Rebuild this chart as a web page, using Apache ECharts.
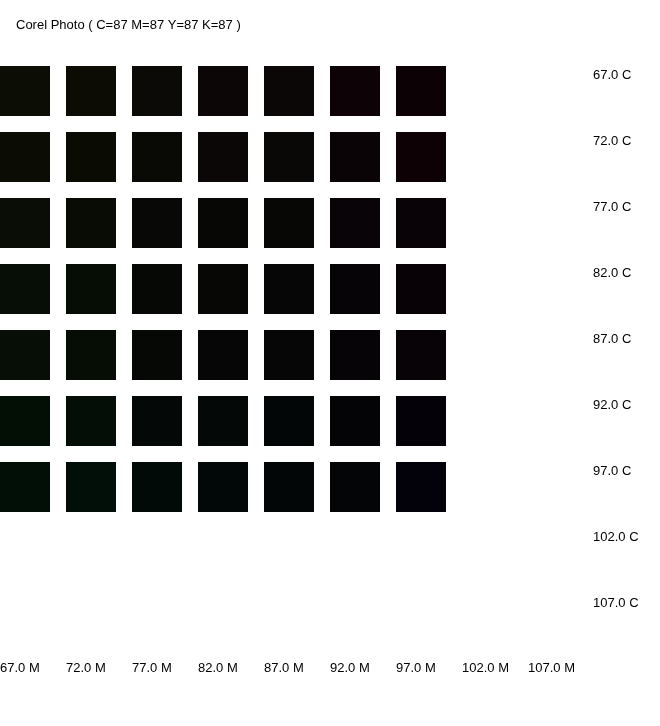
<!DOCTYPE html>
<html>
<head>
<meta charset="utf-8">
<script src="https://cdn.jsdelivr.net/npm/echarts@6/dist/echarts.min.js"></script>
<style>
html,body{margin:0;padding:0;background:#fff;}
#chart{width:660px;height:726px;}
</style>
</head>
<body>
<div id="chart"></div>
<script>
var titleText = 'Corel Photo ( C=87 M=87 Y=87 K=87 )';
// Magenta (x) and Cyan (y) levels shown on the axes
var mTicks = [67, 72, 77, 82, 87, 92, 97, 102, 107];
var cTicks = [67, 72, 77, 82, 87, 92, 97, 102, 107];
// Levels that have a swatch
var mValues = [67, 72, 77, 82, 87, 92, 97];
var cValues = [67, 72, 77, 82, 87, 92, 97];
// Swatch colours, one row per cyan level, one column per magenta level
var colorsC67 = ['#0c0d04', '#0c0c04', '#0c0a06', '#0c0607', '#0c0707', '#0d0307', '#0c0105'];
var colorsC72 = ['#0b0d05', '#0a0c04', '#090906', '#0b0707', '#0a0707', '#0a0406', '#0d0105'];
var colorsC77 = ['#0a0d05', '#090c05', '#080906', '#070805', '#070706', '#080407', '#090308'];
var colorsC82 = ['#070e05', '#060d04', '#050805', '#070805', '#060606', '#060406', '#080206'];
var colorsC87 = ['#070e05', '#060d04', '#060806', '#060606', '#060606', '#060407', '#080306'];
var colorsC92 = ['#030f05', '#040d06', '#040807', '#040806', '#030606', '#040407', '#040208'];
var colorsC97 = ['#020f06', '#020e08', '#020a08', '#020707', '#020607', '#030507', '#03020a'];
var colorRows = [colorsC67, colorsC72, colorsC77, colorsC82, colorsC87, colorsC92, colorsC97];

var data = [];
cValues.forEach(function (c, i) {
  mValues.forEach(function (m, j) {
    data.push({ value: [m, c], itemStyle: { color: colorRows[i][j] } });
  });
});

var chart = echarts.init(document.getElementById('chart'), null, { renderer: 'canvas' });
var font = 'Arial, "Liberation Sans", sans-serif';
chart.setOption({
  backgroundColor: '#ffffff',
  animation: false,
  title: {
    text: titleText,
    left: 16, top: 19, padding: 0,
    textStyle: { fontSize: 13, fontWeight: 'normal', color: '#000', fontFamily: font }
  },
  grid: { left: 0, right: 66, top: 66, bottom: 66, containLabel: false, outerBoundsMode: 'none' },
  xAxis: {
    type: 'value', min: 67, max: 112, interval: 1,
    axisLine: { show: false }, axisTick: { show: false }, splitLine: { show: false },
    axisLabel: {
      margin: 0, align: 'left', verticalAlign: 'top', padding: [2, 0, 0, 0],
      color: '#000', fontSize: 13, fontFamily: font,
      formatter: function (v) { return mTicks.indexOf(v) >= 0 ? v.toFixed(1) + ' M' : ''; }
    }
  },
  yAxis: {
    type: 'value', min: 67, max: 112, interval: 1, inverse: true, position: 'right',
    axisLine: { show: false }, axisTick: { show: false }, splitLine: { show: false },
    axisLabel: {
      margin: -1, align: 'left', verticalAlign: 'top', padding: [3, 0, 0, 0],
      color: '#000', fontSize: 13, fontFamily: font,
      formatter: function (v) { return cTicks.indexOf(v) >= 0 ? v.toFixed(1) + ' C' : ''; }
    }
  },
  series: [{
    type: 'custom',
    data: data,
    renderItem: function (params, api) {
      var p = api.coord([api.value(0), api.value(1)]);
      var step = api.size([5, 5]);
      var w = step[0] * 50 / 66;
      var h = step[1] * 50 / 66;
      return {
        type: 'rect',
        shape: { x: Math.round(p[0]), y: Math.round(p[1]), width: Math.round(w), height: Math.round(h) },
        style: { fill: api.visual('color') }
      };
    }
  }]
});
</script>
</body>
</html>
